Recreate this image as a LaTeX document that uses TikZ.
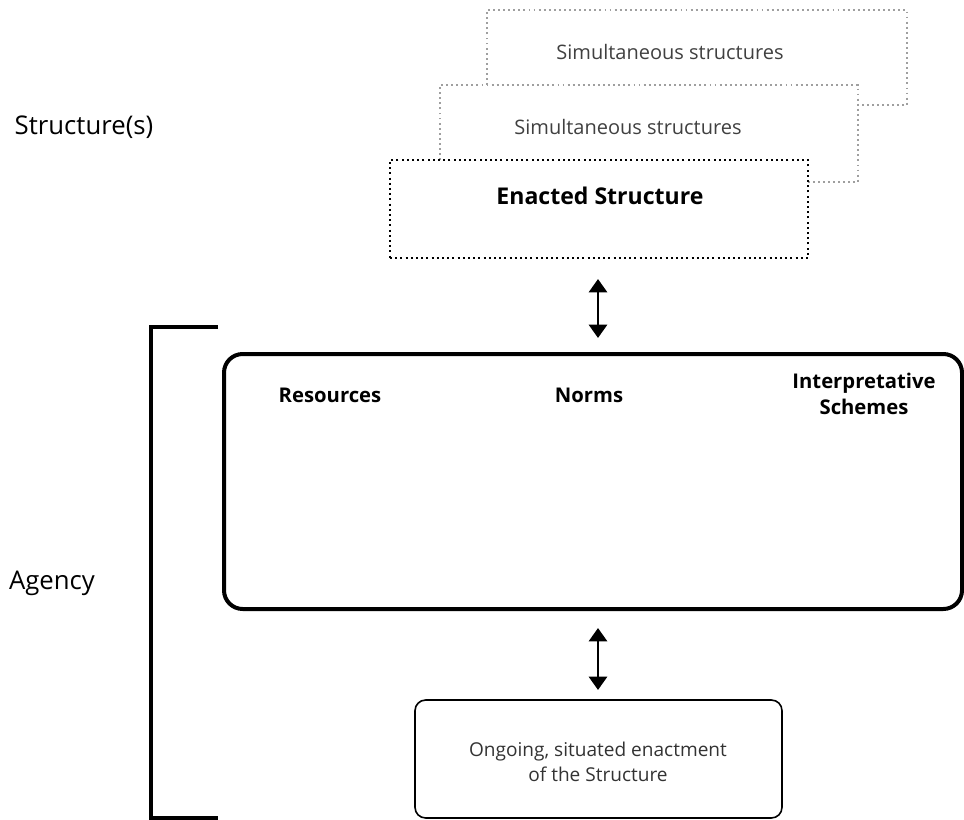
\documentclass[tikz,border=0pt]{standalone}
\usepackage{fontspec}
\setmainfont{Open Sans}
\usetikzlibrary{arrows.meta}
\begin{document}
\begin{tikzpicture}[x=0.75pt,y=-0.75pt,
  graybox/.style={draw=gray!75, line width=1.9pt, dash pattern=on 1.4pt off 2.4pt},
  blackbox/.style={draw=black, line width=2.1pt, dash pattern=on 1.5pt off 2.4pt},
  lbl/.style={font=\fontsize{15}{18}\selectfont, text=black!80},
  blbl/.style={font=\fontsize{15.2}{20}\selectfont\bfseries, align=center},
  side/.style={font=\fontsize{19.3}{22}\selectfont},
  dbl/.style={{Triangle[length=10pt,width=13.5pt]}-{Triangle[length=10pt,width=13.5pt]}, line width=2.2pt}]
\useasboundingbox (0,0) rectangle (964,820);
% stacked structures
\draw[graybox] (487,85) -- (487,10) -- (907,10) -- (907,105) -- (858,105);
\node[lbl, text=black!75] (sim1) at (670,52) {Simultaneous structures};
\draw[graybox] (440,160) -- (440,85) -- (858,85) -- (858,182) -- (808,182);
\node[lbl, text=black!75] (sim2) at (628,127) {Simultaneous structures};
\node[blackbox, minimum width=418*0.75pt, minimum height=98*0.75pt] (enacted) at (599,209) {};
\node[font=\fontsize{17.3}{20}\selectfont\bfseries] (enlbl) at (600,196) {Enacted Structure};
% side labels
\node[side] (struct) at (84,127) {Structure(s)};
\node[side] (agency) at (52,583) {Agency};
% bracket
\coordinate (bt) at (218,327);
\coordinate (bb) at (218,818);
\draw[line width=2.4pt] (bt) -- (151,327) -- (151,818) -- (bb);
% main box
\node[draw, line width=3pt, rounded corners=14pt, minimum width=738*0.75pt, minimum height=255*0.75pt] (main) at (593,481.5) {};
\node[blbl] (res) at (330,395) {Resources};
\node[blbl] (norms) at (589,395) {Norms};
\node[blbl] (interp) at (864,394) {Interpretative\\Schemes};
% bottom box
\node[draw, line width=1.2pt, rounded corners=8pt, minimum width=367*0.75pt, minimum height=118*0.75pt] (ongoing) at (598.5,759) {};
\node[lbl, align=center, font=\fontsize{14.3}{19}\selectfont] (onglbl) at (598,762) {Ongoing, situated enactment\\of the Structure};
% arrows
\coordinate (a1t) at (598,279);
\coordinate (a1b) at (598,338);
\draw[dbl] (a1t) -- (a1b);
\coordinate (a2t) at (598,628);
\coordinate (a2b) at (598,690);
\draw[dbl] (a2t) -- (a2b);
\end{tikzpicture}
\end{document}
